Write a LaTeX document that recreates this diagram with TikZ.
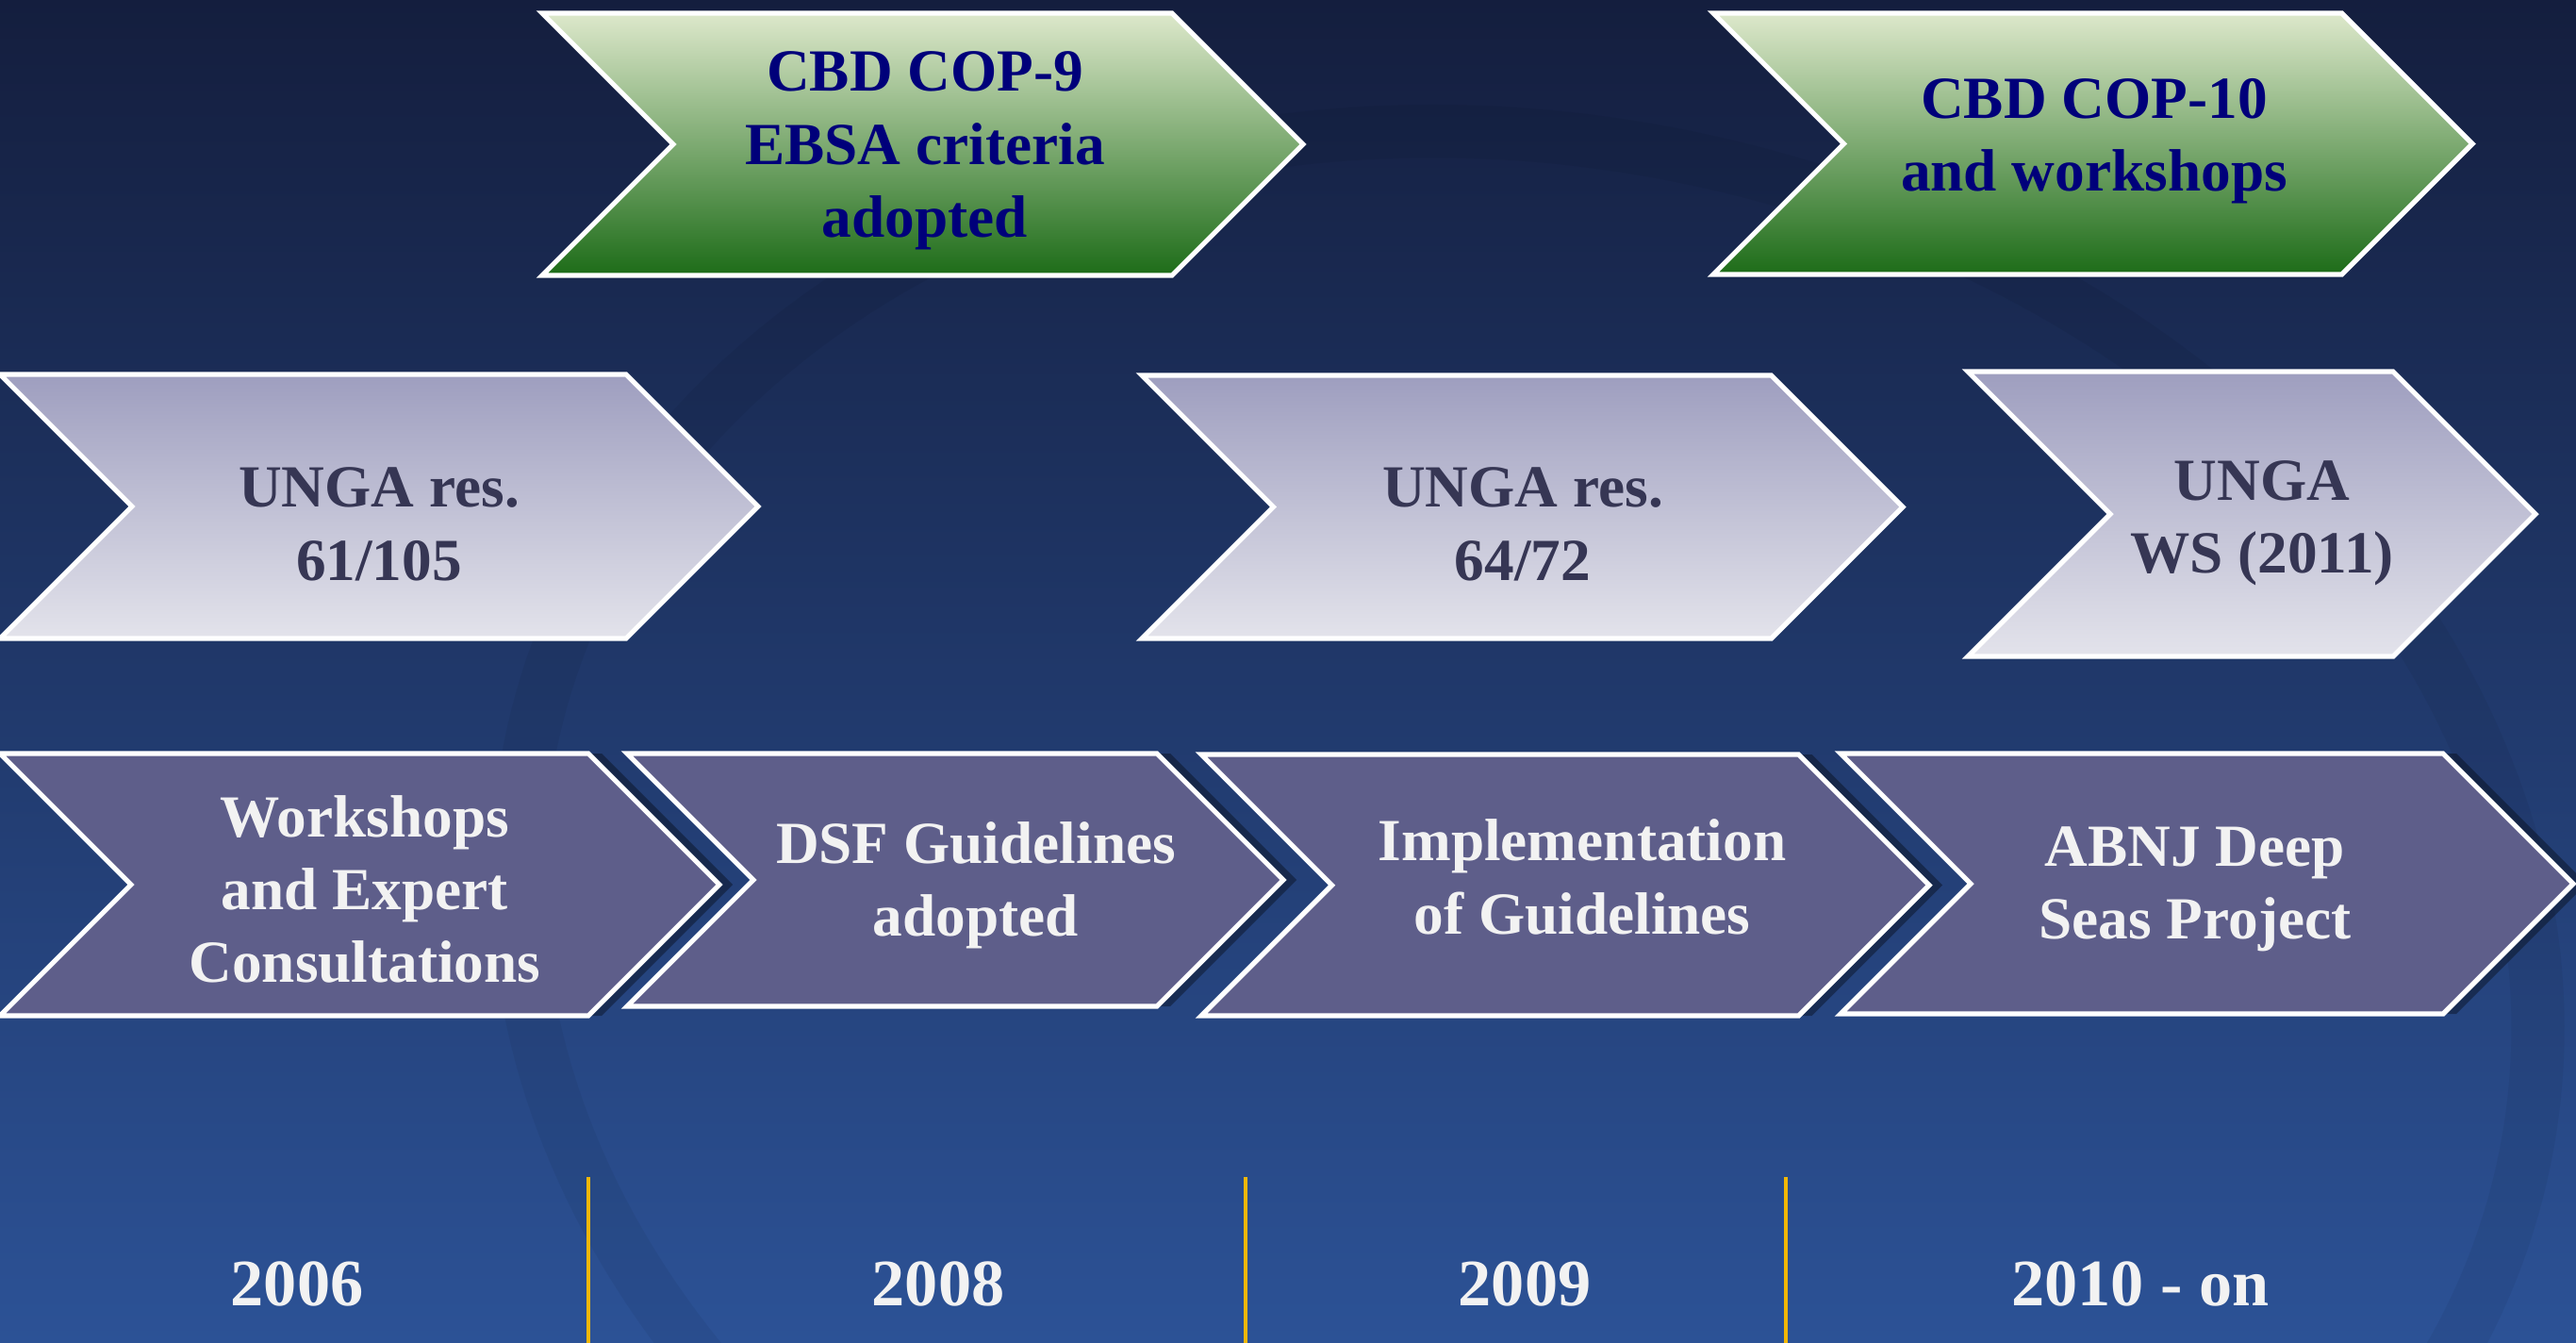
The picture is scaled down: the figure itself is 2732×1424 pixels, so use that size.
\documentclass[tikz,border=0pt]{standalone}
\usepackage{fontspec}
\setmainfont{Liberation Serif}
\usetikzlibrary{shadows}

\definecolor{bgtop}{HTML}{141E3E}
\definecolor{bgmid}{HTML}{1F386C}
\definecolor{bgbot}{HTML}{2C5296}
\definecolor{cbdtop}{HTML}{DDE8CB}
\definecolor{cbdmid}{HTML}{97B978}
\definecolor{cbdbot}{HTML}{1D6C18}
\definecolor{ungatop}{HTML}{9E9EBF}
\definecolor{ungabot}{HTML}{E3E3EB}
\definecolor{stepfill}{HTML}{5E5E8A}
\definecolor{navytext}{HTML}{00007A}
\definecolor{slatetext}{HTML}{363654}
\definecolor{yeargold}{HTML}{F2B705}

% chevron from left edge #1 to tip #2, top #3, bottom #4 (45 degree sides)
\newcommand{\chevpath}[4]{(#1,#3) -- ({#2-(#4-#3)/2},#3) -- (#2,{(#3+#4)/2})
  -- ({#2-(#4-#3)/2},#4) -- (#1,#4) -- ({#1+(#4-#3)/2},{(#3+#4)/2}) -- cycle}

\begin{document}
\begin{tikzpicture}[x=0.01cm,y=-0.01cm,
  chev/.style={draw=white,line width=1.5pt,line join=miter},
  cbdchev/.style={chev,top color=cbdtop,middle color=cbdmid,bottom color=cbdbot},
  ungachev/.style={chev,top color=ungatop,bottom color=ungabot},
  stepchev/.style={chev,fill=stepfill,
    drop shadow={shadow xshift=4pt,shadow yshift=0pt,opacity=0.35,fill=black}},
  lbl/.style={font=\bfseries\fontsize{18}{22}\selectfont,align=center,inner sep=0pt},
  cbdlbl/.style={lbl,text=navytext},
  ungalbl/.style={lbl,text=slatetext},
  steplbl/.style={lbl,text=white!95!black},
  yearlbl/.style={lbl,font=\bfseries\fontsize{20}{24}\selectfont,text=white!95!black}]
\useasboundingbox (0,0) rectangle (2732,1424);
\fill[top color=bgtop,middle color=bgmid,bottom color=bgbot] (0,0) rectangle (2732,1424);
% faint ring of the logo behind
\draw[black,opacity=0.05,line width=16pt,rotate around={-12:(1620,1010)}]
  (1620,1010) ellipse (1080 and 860);

% top row
\path[cbdchev] \chevpath{575}{1382}{14}{292};
\path[cbdchev] \chevpath{1817}{2622}{14}{291};
\node[cbdlbl] (cop9) at (981,160) {CBD COP-9\\EBSA criteria\\adopted};
\node[cbdlbl] (cop10) at (2221,150) {CBD COP-10\\and workshops};

% middle row
\path[ungachev] \chevpath{0}{804}{397}{677};
\path[ungachev] \chevpath{1211}{2018}{398}{677};
\path[ungachev] \chevpath{2087}{2689}{394}{696};
\node[ungalbl] (res61) at (402,556) {UNGA res.\\61/105};
\node[ungalbl] (res64) at (1615,556) {UNGA res.\\64/72};
\node[ungalbl] (ws2011) at (2399,555) {UNGA\\WS (2011)};

% bottom row
\path[stepchev] \chevpath{0}{763}{799}{1077};
\path[stepchev] \chevpath{665}{1361}{799}{1067};
\path[stepchev] \chevpath{1274}{2046}{800}{1077};
\path[stepchev] \chevpath{1952}{2729}{799}{1075};
\node[steplbl] (consult) at (387,943) {Workshops\\and Expert\\Consultations};
\node[steplbl] (dsf) at (1035,939) {DSF Guidelines\\adopted};
\node[steplbl] (impl) at (1678,930) {Implementation\\of Guidelines};
\node[steplbl] (abnj) at (2328,943) {ABNJ Deep\\Seas Project};

% years
\foreach \x in {624,1321,1894}
  \draw[yeargold,line width=1pt] (\x,1248) -- (\x,1424);
\node[yearlbl] (y2006) at (315,1361) {2006};
\node[yearlbl] (y2008) at (995,1361) {2008};
\node[yearlbl] (y2009) at (1617,1361) {2009};
\node[yearlbl] (y2010) at (2270,1361) {2010 - on};
\end{tikzpicture}
\end{document}
